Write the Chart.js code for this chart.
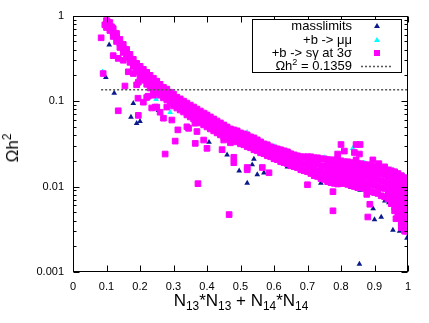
<!DOCTYPE html>
<html lang="en">
<head>
<meta charset="UTF-8">
<title>Omega h2 vs N13*N13 + N14*N14</title>
<script src="https://cdn.jsdelivr.net/npm/chart.js"></script>
<style>
    body {
        margin: 0;
        background: #fff;
        font-family: "Liberation Sans", Arial, sans-serif;
    }
    #wrap {
        position: relative;
        width: 429px;
        height: 323px;
    }
    .lbl {
        position: absolute;
        white-space: nowrap;
        color: #000;
    }
    .legend-row {
        position: absolute;
        right: 77px;
        text-align: right;
        font-size: 13px;
        line-height: 14px;
        white-space: nowrap;
    }
    sub, sup { font-size: 70%; line-height: 0; }
</style>
</head>
<body>
<div id="wrap">
    <canvas id="chart" width="429" height="323"></canvas>
    <div class="lbl" id="ytitle" style="left:13px;top:148px;font-size:17px;transform:translate(-50%,-50%) rotate(-90deg);">Ωh<sup>2</sup></div>
    <div class="lbl" id="xtitle" style="left:241px;top:291px;font-size:17px;transform:translateX(-50%);">N<sub>13</sub>*N<sub>13</sub> + N<sub>14</sub>*N<sub>14</sub></div>
    <div class="legend-row" style="top:19px;">masslimits</div>
    <div class="legend-row" style="top:33px;">+b -&gt; μμ</div>
    <div class="legend-row" style="top:46px;">+b -&gt; sγ at 3σ</div>
    <div class="legend-row" style="top:59px;">Ωh<sup>2</sup> = 0.1359</div>
</div>

<script>
    // axis ticks
    const xTickLabels = ['0', '0.1', '0.2', '0.3', '0.4', '0.5', '0.6', '0.7', '0.8', '0.9', '1'];
    const yTickVals = [0.001, 0.01, 0.1, 1];
    const yTickLabels = ['0.001', '0.01', '0.1', '1'];

    // relic density line
    const relic = 0.1359;
    const relicFrom = 0.084;

    // masslimits (dark blue triangles)
    const massPts = [
        [0.108, 0.456], [0.098, 0.19], [0.123, 0.124], [0.18, 0.094], [0.173, 0.065],
        [0.19, 0.055], [0.20, 0.058], [0.255, 0.078], [0.30, 0.087], [0.406, 0.033],
        [0.46, 0.0235], [0.496, 0.0153], [0.52, 0.011], [0.54, 0.021], [0.535, 0.018],
        [0.55, 0.0138], [0.57, 0.0145], [0.64, 0.017], [0.69, 0.015], [0.70, 0.0105],
        [0.74, 0.011], [0.745, 0.0127], [0.83, 0.0098], [0.857, 0.0091], [0.877, 0.0086],
        [0.931, 0.0068], [0.943, 0.0065], [0.896, 0.0055], [0.90, 0.0041], [0.92, 0.0044],
        [0.955, 0.0031], [0.975, 0.0030], [0.997, 0.0025], [0.855, 0.00124]
    ];

    // +b -> mu mu (cyan triangles)
    const mumuPts = [
        [0.088, 0.22], [0.248, 0.105], [0.29, 0.074], [0.43, 0.048], [0.41, 0.063],
        [0.835, 0.028], [0.40, 0.0725], [0.52, 0.043], [0.60, 0.0295], [0.65, 0.0252],
        [0.75, 0.0218], [0.78, 0.0207], [0.87, 0.0188], [0.95, 0.0160], [0.999, 0.005],
        [0.999, 0.008], [1.0, 0.0035], [0.99, 0.0133], [0.21, 0.245], [0.30, 0.127]
    ];

    // +b -> s gamma at 3 sigma (magenta squares): dense band
    const sgBand = [
        [0.10, .875], [0.10, .80], [0.10, .725],
        [0.11, .829], [0.11, .745], [0.11, .669],
        [0.12, .706], [0.12, .634], [0.12, .570],
        [0.13, .618], [0.13, .555], [0.13, .498],
        [0.14, .526], [0.14, .472], [0.14, .424],
        [0.15, .460], [0.15, .413], [0.15, .371],
        [0.16, .402], [0.16, .361], [0.16, .325],
        [0.17, .352], [0.17, .316], [0.17, .284],
        [0.18, .308], [0.18, .280], [0.18, .255],
        [0.19, .276], [0.19, .248], [0.19, .223],
        [0.20, .255], [0.20, .223], [0.20, .195],
        [0.21, .235], [0.21, .203], [0.21, .175],
        [0.22, .217], [0.22, .185], [0.22, .157],
        [0.23, .200], [0.23, .168], [0.23, .142],
        [0.24, .185], [0.24, .157], [0.24, .134],
        [0.25, .171], [0.25, .145], [0.25, .124],
        [0.26, .157], [0.26, .136], [0.26, .117],
        [0.27, .145], [0.27, .126], [0.27, .109],
        [0.28, .138], [0.28, .119], [0.28, .103],
        [0.29, .127], [0.29, .110], [0.29, .0948],
        [0.30, .121], [0.30, .103], [0.30, .0875],
        [0.31, .111], [0.31, .096], [0.31, .0829],
        [0.32, .106], [0.32, .091], [0.32, .0786],
        [0.33, .100], [0.33, .086], [0.33, .0745],
        [0.34, .0948], [0.34, .0807], [0.34, .0688],
        [0.35, .0898], [0.35, .0765], [0.35, .0652],
        [0.36, .0852], [0.36, .0725], [0.36, .0618],
        [0.37, .0807], [0.37, .0688], [0.37, .0585],
        [0.38, .0765], [0.38, .0652], [0.38, .0555],
        [0.39, .0725], [0.39, .0618], [0.39, .0526],
        [0.40, .0688], [0.40, .0585], [0.40, .0498],
        [0.41, .0652], [0.41, .0555], [0.41, .0472],
        [0.42, .0618], [0.42, .0526], [0.42, .0448],
        [0.43, .0585], [0.43, .0498], [0.43, .0424],
        [0.44, .0555], [0.44, .0472], [0.44, .0402],
        [0.45, .0526], [0.45, .0448], [0.45, .0381],
        [0.46, .0498], [0.46, .0430], [0.46, .0371],
        [0.47, .0472], [0.47, .0413], [0.47, .0361],
        [0.48, .0460], [0.48, .0397], [0.48, .0342],
        [0.49, .0448], [0.49, .0386], [0.49, .0333],
        [0.50, .0424], [0.50, .0366], [0.50, .0316],
        [0.51, .0413], [0.51, .0356], [0.51, .0308],
        [0.52, .0402], [0.52, .0342], [0.52, .0292],
        [0.53, .0381], [0.53, .0329], [0.53, .0284],
        [0.54, .0371], [0.54, .0316], [0.54, .0269],
        [0.55, .0352], [0.55, .0304], [0.55, .0262],
        [0.56, .0333], [0.56, .0288], [0.56, .0248],
        [0.57, .0316], [0.57, .0276], [0.57, .0242],
        [0.58, .0308], [0.58, .0265], [0.58, .0229],
        [0.59, .0292], [0.59, .0255], [0.59, .0223],
        [0.60, .0284], [0.60, .0245], [0.60, .0211],
        [0.61, .0276], [0.61, .0238], [0.61, .0206],
        [0.62, .0269], [0.62, .0229], [0.62, .0195],
        [0.63, .0262], [0.63, .0223], [0.63, .0190],
        [0.64, .0255], [0.64, .0217], [0.64, .0185],
        [0.65, .0242], [0.65, .0206], [0.65, .0175],
        [0.66, .0235], [0.66, .0200], [0.66, .0171],
        [0.67, .0229], [0.67, .0195], [0.67, .0166],
        [0.68, .0223], [0.68, .0187], [0.68, .0157],
        [0.69, .0223], [0.69, .0185], [0.69, .0153],
        [0.70, .0223], [0.70, .0195], [0.70, .0171], [0.70, .0149],
        [0.71, .0223], [0.71, .0190], [0.71, .0166], [0.71, .0142],
        [0.72, .0217], [0.72, .0185], [0.72, .0157], [0.72, .0134],
        [0.73, .0217], [0.73, .0185], [0.73, .0153], [0.73, .0131],
        [0.74, .0211], [0.74, .0175], [0.74, .0149], [0.74, .0124],
        [0.75, .0211], [0.75, .0175], [0.75, .0145], [0.75, .0121],
        [0.76, .0206], [0.76, .0175], [0.76, .0149], [0.76, .0131], [0.76, .0114],
        [0.77, .0206], [0.77, .0175], [0.77, .0149], [0.77, .0127], [0.77, .0111],
        [0.78, .0200], [0.78, .0171], [0.78, .0145], [0.78, .0124], [0.78, .0109],
        [0.79, .0200], [0.79, .0171], [0.79, .0145], [0.79, .0124], [0.79, .0107],
        [0.80, .0200], [0.80, .0171], [0.80, .0145], [0.80, .0124], [0.80, .0109],
        [0.81, .0195], [0.81, .0166], [0.81, .0142], [0.81, .0121], [0.81, .0109],
        [0.82, .0195], [0.82, .0166], [0.82, .0142], [0.82, .0121], [0.82, .0106],
        [0.83, .0190], [0.83, .0162], [0.83, .0138], [0.83, .0117], [0.83, .0103],
        [0.84, .0190], [0.84, .0162], [0.84, .0138], [0.84, .0117], [0.84, .0100],
        [0.85, .0185], [0.85, .0157], [0.85, .0134], [0.85, .0114], [0.85, .0097],
        [0.86, .0185], [0.86, .0157], [0.86, .0134], [0.86, .0114], [0.86, .0097],
        [0.87, .0180], [0.87, .0153], [0.87, .0131], [0.87, .0111], [0.87, .0095],
        [0.88, .0180], [0.88, .0153], [0.88, .0131], [0.88, .0109], [0.88, .0092],
        [0.89, .0175], [0.89, .0149], [0.89, .0127], [0.89, .0106], [0.89, .0087],
        [0.90, .0171], [0.90, .0145], [0.90, .0124], [0.90, .0103], [0.90, .0085],
        [0.91, .0171], [0.91, .0145], [0.91, .0121], [0.91, .0100], [0.91, .0083],
        [0.92, .0166], [0.92, .0142], [0.92, .0117], [0.92, .0097], [0.92, .0078],
        [0.93, .0162], [0.93, .0138], [0.93, .0114], [0.93, .0095], [0.93, .0076],
        [0.94, .0157], [0.94, .0134], [0.94, .0111], [0.94, .0092], [0.94, .0078], [0.94, .0072],
        [0.95, .0153], [0.95, .0131], [0.95, .0111], [0.95, .0095], [0.95, .0080], [0.95, .0070], [0.95, .0063],
        [0.96, .0149], [0.96, .0127], [0.96, .0109], [0.96, .0092], [0.96, .0078], [0.96, .0066],
        [0.96, .0058], [0.96, .0052],
        [0.97, .0142], [0.97, .0121], [0.97, .0103], [0.97, .0087], [0.97, .0074], [0.97, .0063],
        [0.97, .0054], [0.97, .0047], [0.97, .0044],
        [0.98, .0134], [0.98, .0114], [0.98, .0097], [0.98, .0083], [0.98, .0070], [0.98, .0060],
        [0.98, .0051], [0.98, .0044], [0.98, .0038], [0.98, .0035],
        [0.99, .0127], [0.99, .0109], [0.99, .0092], [0.99, .0078], [0.99, .0066], [0.99, .0057],
        [0.99, .0048], [0.99, .0041], [0.99, .0035], [0.99, .0030],
        [0.995, .0117], [0.995, .0100], [0.995, .0085], [0.995, .0072], [0.995, .0061],
        [0.995, .0052], [0.995, .0045], [0.995, .0038], [0.995, .0033], [0.995, .0030]
    ];

    // +b -> s gamma: points off the band
    const sgScatter = [
        [0.084, 0.55], [0.09, 0.21], [0.095, 0.78], [0.105, 0.84], [0.115, 0.74],
        [0.12, 0.34], [0.135, 0.316], [0.15, 0.30], [0.165, 0.22], [0.18, 0.21],
        [0.195, 0.166], [0.19, 0.155], [0.155, 0.15], [0.135, 0.077], [0.194, 0.108],
        [0.224, 0.114], [0.21, 0.097], [0.235, 0.083], [0.25, 0.085], [0.28, 0.085],
        [0.195, 0.068], [0.22, 0.11], [0.245, 0.085], [0.26, 0.074], [0.27, 0.063],
        [0.295, 0.06], [0.305, 0.034], [0.275, 0.024], [0.345, 0.048], [0.365, 0.032],
        [0.40, 0.028], [0.373, 0.0108], [0.466, 0.0047], [0.445, 0.027], [0.48, 0.022],
        [0.52, 0.0167], [0.565, 0.0167], [0.48, 0.019], [0.52, 0.0157], [0.585, 0.0145],
        [0.70, 0.0105], [0.776, 0.0087], [0.776, 0.0052], [0.877, 0.0081], [0.886, 0.0062],
        [0.88, 0.0044], [0.964, 0.0042], [0.98, 0.0033], [0.80, 0.031], [0.845, 0.031],
        [0.857, 0.031], [0.79, 0.024], [0.81, 0.026], [0.84, 0.025], [0.855, 0.024],
        [0.845, 0.0205], [0.895, 0.0205], [0.913, 0.0185], [0.93, 0.017], [0.79, 0.021],
        [0.24, 0.117], [0.313, 0.046], [0.34, 0.05], [0.37, 0.044], [0.39, 0.035],
        [0.364, 0.055], [0.45, 0.035], [0.47, 0.0325], [0.50, 0.035]
    ];

    const MAGENTA = '#ff00ff';
    const CYAN = '#00ffff';
    const NAVY = '#0a1a8a';

    const toXY = arr => arr.map(p => ({ x: p[0], y: p[1] }));

    // gnuplot style frame: box border, inward ticks on all four sides, and the key
    const framePlugin = {
        id: 'frame',
        afterDatasetsDraw(chart) {
            const { ctx, chartArea: a, scales } = chart;
            const L = Math.round(a.left) + 0.5, R = Math.round(a.right) - 0.5;
            const T = Math.round(a.top) + 0.5, B = Math.round(a.bottom) - 0.5;
            ctx.save();
            ctx.strokeStyle = '#000';
            ctx.lineWidth = 1;
            ctx.beginPath();
            // x ticks
            xTickLabels.forEach((t, i) => {
                const px = Math.round(scales.x.getPixelForValue(i / 10)) + 0.5;
                ctx.moveTo(px, B); ctx.lineTo(px, B - 6);
                ctx.moveTo(px, T); ctx.lineTo(px, T + 6);
            });
            // y ticks, major and minor
            for (let d = 0; d < yTickVals.length; d++) {
                const base = yTickVals[d];
                for (let k = 1; k <= 9; k++) {
                    const v = base * k;
                    if (v > 1.0001) break;
                    const py = Math.round(scales.y.getPixelForValue(v)) + 0.5;
                    const len = k === 1 ? 6 : 3;
                    ctx.moveTo(L, py); ctx.lineTo(L + len, py);
                    ctx.moveTo(R, py); ctx.lineTo(R - len, py);
                }
            }
            ctx.stroke();
            ctx.strokeRect(L, T, R - L, B - T);

            // key box
            ctx.fillStyle = '#fff';
            ctx.fillRect(252, 19, 149, 54);
            ctx.strokeRect(252.5, 19.5, 149, 53);
            const sx = 377;
            const tri = (cy, col) => {
                ctx.fillStyle = col;
                ctx.beginPath();
                ctx.moveTo(sx, cy - 3);
                ctx.lineTo(sx + 3, cy + 2);
                ctx.lineTo(sx - 3, cy + 2);
                ctx.closePath();
                ctx.fill();
            };
            tri(26, NAVY);
            tri(40, CYAN);
            ctx.fillStyle = MAGENTA;
            ctx.fillRect(sx - 3, 50, 6, 6);
            ctx.strokeStyle = '#555';
            ctx.lineWidth = 1.3;
            ctx.setLineDash([2, 2]);
            ctx.beginPath();
            ctx.moveTo(361, 66.5); ctx.lineTo(392, 66.5);
            ctx.stroke();
            ctx.restore();
        }
    };

    const tickFont = { family: 'Liberation Sans', size: 11 };

    new Chart(document.getElementById('chart'), {
        type: 'scatter',
        data: {
            datasets: [
                {
                    label: 'Ωh2 = 0.1359',
                    data: [{ x: relicFrom, y: relic }, { x: 1, y: relic }],
                    showLine: true,
                    pointRadius: 0,
                    borderColor: '#555',
                    borderWidth: 1.5,
                    borderDash: [2, 2],
                    order: 0
                },
                {
                    label: '+b -> sγ at 3σ',
                    data: toXY(sgBand.concat(sgScatter)),
                    pointStyle: 'rect',
                    pointRadius: 4.0,
                    pointBorderWidth: 1,
                    backgroundColor: MAGENTA,
                    borderColor: MAGENTA,
                    order: 1
                },
                {
                    label: '+b -> μμ',
                    data: toXY(mumuPts),
                    pointStyle: 'triangle',
                    pointRadius: 3.3,
                    pointBorderWidth: 0,
                    backgroundColor: CYAN,
                    borderColor: CYAN,
                    order: 2
                },
                {
                    label: 'masslimits',
                    data: toXY(massPts),
                    pointStyle: 'triangle',
                    pointRadius: 3.3,
                    pointBorderWidth: 0,
                    backgroundColor: NAVY,
                    borderColor: NAVY,
                    order: 3
                }
            ]
        },
        options: {
            responsive: false,
            animation: false,
            events: [],
            layout: { padding: { top: 15, right: 21, left: 0, bottom: 0 } },
            plugins: {
                legend: { display: false },
                tooltip: { enabled: false }
            },
            scales: {
                x: {
                    type: 'linear',
                    min: 0,
                    max: 1,
                    grid: { display: false, drawTicks: false },
                    border: { display: false },
                    ticks: {
                        stepSize: 0.1,
                        autoSkip: false,
                        maxRotation: 0,
                        padding: 8,
                        color: '#000',
                        font: tickFont,
                        callback: (v, i) => xTickLabels[i]
                    },
                    afterFit: s => { s.height = 51; }
                },
                y: {
                    type: 'logarithmic',
                    min: 0.001,
                    max: 1,
                    grid: { display: false, drawTicks: false },
                    border: { display: false },
                    afterBuildTicks: s => {
                        s.ticks = yTickVals.map(v => ({ value: v }));
                    },
                    ticks: {
                        padding: 9,
                        color: '#000',
                        font: tickFont,
                        callback: (v, i) => yTickLabels[i]
                    },
                    afterFit: s => { s.width = 73; }
                }
            }
        },
        plugins: [framePlugin]
    });
</script>
</body>
</html>
